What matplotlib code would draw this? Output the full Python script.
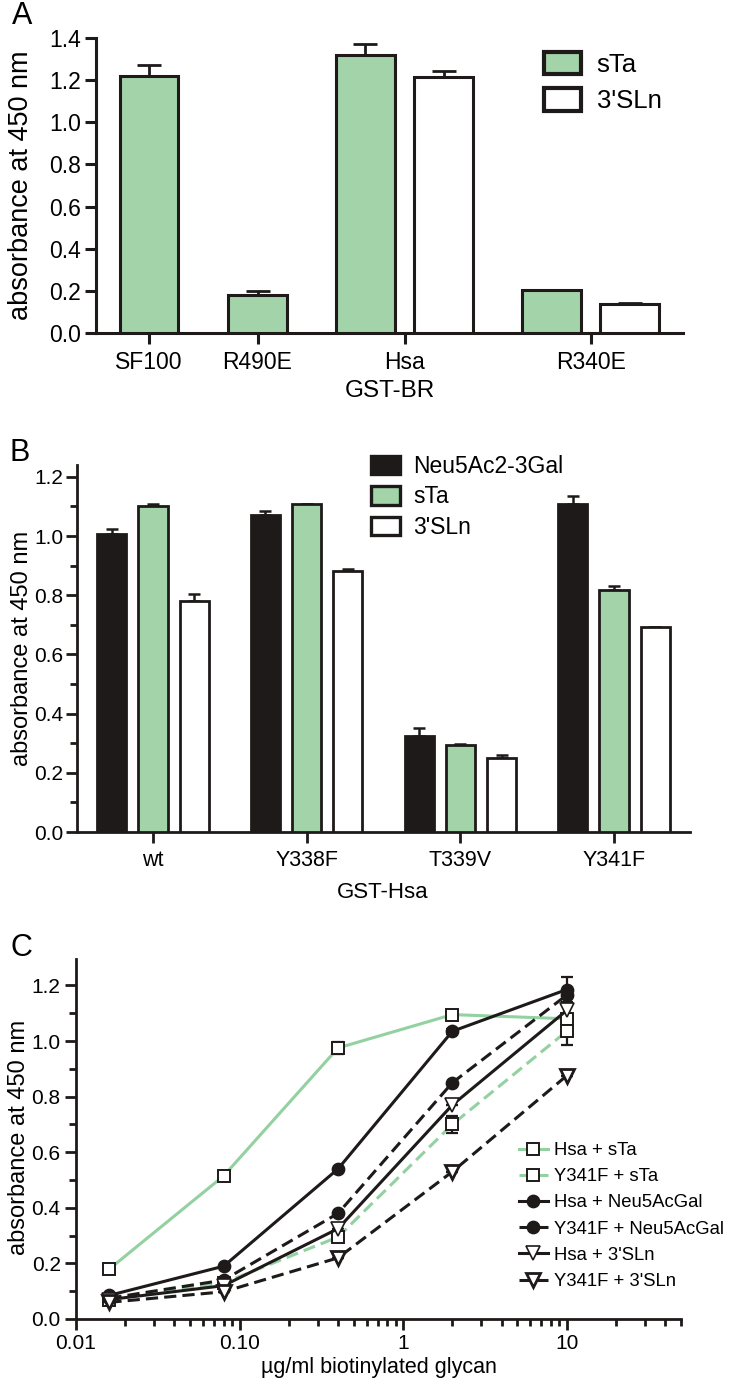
import matplotlib
matplotlib.use('Agg')
import matplotlib.pyplot as plt
from matplotlib.ticker import MultipleLocator, NullFormatter, LogLocator
import numpy as np

W, H = 744, 1383
SANS = ['Liberation Sans', 'DejaVu Sans']
plt.rcParams['font.family'] = SANS

GREEN = '#a3d3a9'
GREEN_LINE = '#93d1a1'
INK = '#1e1a1a'

# ---- Panel A data ----
a_groups = ['SF100', 'R490E', 'Hsa', 'R340E']
a_sta = [1.22, 0.18, 1.32, 0.205]
a_sta_err = [0.05, 0.02, 0.05, 0.0]
a_sln_groups = ['Hsa', 'R340E']
a_sln = [1.215, 0.138]
a_sln_err = [0.03, 0.003]

# ---- Panel B data ----
b_groups = ['wt', 'Y338F', 'T339V', 'Y341F']
b_neu = [1.006, 1.070, 0.323, 1.109]
b_neu_err = [0.019, 0.014, 0.027, 0.025]
b_sta = [1.103, 1.107, 0.293, 0.819]
b_sta_err = [0.005, 0.002, 0.005, 0.012]
b_sln = [0.782, 0.881, 0.250, 0.691]
b_sln_err = [0.021, 0.009, 0.011, 0.002]

# ---- Panel C data ----
c_conc = [0.016, 0.08, 0.4, 2, 10]
c_hsa_sta = [0.18, 0.515, 0.975, 1.095, 1.08]
c_hsa_sta_err = [0.0, 0.0, 0.02, 0.008, 0.01]
c_y341f_sta = [0.07, 0.13, 0.295, 0.70, 1.035]
c_y341f_sta_err = [0.0, 0.0, 0.01, 0.03, 0.05]
c_hsa_neu = [0.085, 0.19, 0.54, 1.035, 1.185]
c_hsa_neu_err = [0.0, 0.0, 0.0, 0.008, 0.045]
c_y341f_neu = [0.075, 0.14, 0.38, 0.85, 1.165]
c_y341f_neu_err = [0.0, 0.0, 0.0, 0.0, 0.0]
c_hsa_sln = [0.07, 0.12, 0.325, 0.77, 1.11]
c_hsa_sln_err = [0.0, 0.0, 0.0, 0.0, 0.02]
c_y341f_sln = [0.06, 0.098, 0.22, 0.53, 0.875]
c_y341f_sln_err = [0.0, 0.0, 0.0, 0.0, 0.0]


def px_axes(fig, left, top, right, bottom):
    return fig.add_axes([left / W, 1 - bottom / H, (right - left) / W, (bottom - top) / H])


def style_axes(ax, lw):
    for s in ['top', 'right']:
        ax.spines[s].set_visible(False)
    for s in ['left', 'bottom']:
        ax.spines[s].set_linewidth(lw)
        ax.spines[s].set_color(INK)


fig = plt.figure(figsize=(W / 100, H / 100), dpi=100)

# ================= Panel A =================
ax = px_axes(fig, 96, 38, 683, 333)
style_axes(ax, 2.2)
a_pos = {'SF100': 0.0, 'R490E': 1.75, 'Hsa': 4.12, 'R340E': 7.12}
a_off = {'SF100': 0.0, 'R490E': 0.0, 'Hsa': -0.63, 'R340E': -0.63}
x_sta = [a_pos[g] + a_off[g] for g in a_groups]
x_sln = [a_pos[g] + 0.63 for g in a_sln_groups]
ax.bar(x_sta, a_sta, width=0.95, color=GREEN, edgecolor=INK, linewidth=2.2, zorder=3, label='sTa')
ax.bar(x_sln, a_sln, width=0.95, color='white', edgecolor=INK, linewidth=2.2, zorder=3, label="3'SLn")
ax.errorbar(x_sta, a_sta, yerr=[np.zeros(4), a_sta_err], fmt='none', ecolor=INK,
            elinewidth=2.0, capsize=8.5, capthick=2.0, zorder=2)
ax.errorbar(x_sln, a_sln, yerr=[np.zeros(2), a_sln_err], fmt='none', ecolor=INK,
            elinewidth=2.0, capsize=8.5, capthick=2.0, zorder=2)
ax.set_xlim(-0.855, 8.61)
ax.set_ylim(0, 1.4)
ax.set_yticks(np.arange(0, 1.41, 0.2))
ax.set_yticklabels([f'{v:.1f}' for v in np.arange(0, 1.41, 0.2)])
ax.set_xticks([a_pos[g] for g in a_groups])
ax.set_xticklabels(a_groups)
ax.tick_params(axis='both', width=2.2, length=8, color=INK, labelsize=16.5, pad=3)
ax.tick_params(axis='x', pad=5)
ax.legend(loc='upper left', bbox_to_anchor=(544 / W, 1 - 52 / H), bbox_transform=fig.transFigure,
          frameon=False, fontsize=18.5, handlelength=1.45, handleheight=0.95,
          handletextpad=0.6, labelspacing=0.45, borderpad=0, borderaxespad=0)
for p in ax.get_legend().get_patches():
    p.set_linewidth(3)
fig.text(390 / W, 1 - 391 / H, 'GST-BR', ha='center', va='center', fontsize=17.5)
fig.text(21 / W, 1 - 185 / H, 'absorbance at 450 nm', ha='center', va='center',
         rotation=90, fontsize=19.5)
fig.text(12 / W, 1 - 16 / H, 'A', ha='left', va='center', fontsize=22)

# ================= Panel B =================
ax = px_axes(fig, 77, 465, 690, 832)
style_axes(ax, 2.0)
xb = np.arange(len(b_groups))
off, bw = 0.268, 0.19
for vals, errs, col, lab, dx in [(b_neu, b_neu_err, INK, 'Neu5Ac2-3Gal', -off),
                                 (b_sta, b_sta_err, GREEN, 'sTa', 0.0),
                                 (b_sln, b_sln_err, 'white', "3'SLn", off)]:
    ax.bar(xb + dx, vals, width=bw, color=col, edgecolor=INK, linewidth=2.0, zorder=3, label=lab)
    ax.errorbar(xb + dx, vals, yerr=[np.zeros(4), errs], fmt='none', ecolor=INK,
                elinewidth=1.8, capsize=4.5, capthick=1.8, zorder=2)
ax.set_xlim(-0.494, 3.494)
ax.set_ylim(0, 1.24)
ax.set_yticks(np.arange(0, 1.21, 0.2))
ax.set_yticklabels([f'{v:.1f}' for v in np.arange(0, 1.21, 0.2)])
ax.yaxis.set_minor_locator(MultipleLocator(0.1))
ax.set_xticks(xb)
ax.set_xticklabels(b_groups)
ax.tick_params(axis='y', which='major', width=2.0, length=8, color=INK, labelsize=15, pad=2)
ax.tick_params(axis='y', which='minor', width=2.0, length=5, color=INK)
ax.tick_params(axis='x', width=2.0, length=8, color=INK, labelsize=15.5, pad=5)
ax.legend(loc='upper left', bbox_to_anchor=(371 / W, 1 - 455 / H), bbox_transform=fig.transFigure,
          frameon=False, fontsize=16.5, handlelength=1.25, handleheight=0.85,
          handletextpad=0.6, labelspacing=0.32, borderpad=0, borderaxespad=0)
for p in ax.get_legend().get_patches():
    p.set_linewidth(2.4)
fig.text(383 / W, 1 - 893 / H, 'GST-Hsa', ha='center', va='center', fontsize=16)
fig.text(22 / W, 1 - 648 / H, 'absorbance at 450 nm', ha='center', va='center',
         rotation=90, fontsize=17)
fig.text(10 / W, 1 - 453 / H, 'B', ha='left', va='center', fontsize=22)

# ================= Panel C =================
ax = px_axes(fig, 76, 959, 681, 1319)
style_axes(ax, 2.0)
series = [
    ('Hsa + sTa', c_hsa_sta, c_hsa_sta_err, GREEN_LINE, '-', 's', 'white', 1.4),
    ('Y341F + sTa', c_y341f_sta, c_y341f_sta_err, GREEN_LINE, (0, (4, 2)), 's', 'white', 1.4),
    ('Hsa + Neu5AcGal', c_hsa_neu, c_hsa_neu_err, INK, '-', 'o', INK, 1.4),
    ('Y341F + Neu5AcGal', c_y341f_neu, c_y341f_neu_err, INK, (0, (4, 2)), 'o', INK, 1.4),
    ("Hsa + 3'SLn", c_hsa_sln, c_hsa_sln_err, INK, '-', 'v', 'white', 1.2),
    ("Y341F + 3'SLn", c_y341f_sln, c_y341f_sln_err, INK, (0, (4, 2)), 'v', 'white', 2.0),
]
for lab, vals, errs, col, ls, mk, mfc, mew in series:
    ax.errorbar(c_conc, vals, yerr=errs, fmt='none', ecolor=INK, elinewidth=1.6,
                capsize=4.5, capthick=1.6, zorder=2)
    ax.plot(c_conc, vals, color=col, linestyle=ls, linewidth=2.2, marker=mk,
            markersize=8.5 if mk != 'v' else 9.5, markerfacecolor=mfc,
            markeredgecolor=INK, markeredgewidth=mew, label=lab, zorder=3)
ax.set_xscale('log')
ax.set_xlim(0.01, 50)
ax.set_ylim(0, 1.295)
ax.set_xticks([0.01, 0.1, 1, 10])
ax.set_xticklabels(['0.01', '0.10', '1', '10'])
ax.xaxis.set_minor_locator(LogLocator(base=10, subs=np.arange(2, 10), numticks=20))
ax.xaxis.set_minor_formatter(NullFormatter())
ax.set_yticks(np.arange(0, 1.21, 0.2))
ax.set_yticklabels([f'{v:.1f}' for v in np.arange(0, 1.21, 0.2)])
ax.yaxis.set_minor_locator(MultipleLocator(0.1))
ax.tick_params(axis='both', which='major', width=2.0, length=8, color=INK, pad=3, labelsize=15)
ax.tick_params(axis='both', which='minor', width=2.0, length=5, color=INK)
ax.legend(loc='upper left', bbox_to_anchor=(519 / W, 1 - 1142 / H), bbox_transform=fig.transFigure,
          frameon=False, handlelength=1.55, handletextpad=0.35, labelspacing=0.5,
          borderpad=0, borderaxespad=0, fontsize=13.3)
fig.text(379 / W, 1 - 1368 / H, 'µg/ml biotinylated glycan', ha='center', va='center',
         fontsize=15.5)
fig.text(19 / W, 1 - 1137 / H, 'absorbance at 450 nm', ha='center', va='center',
         rotation=90, fontsize=17)
fig.text(10 / W, 1 - 948 / H, 'C', ha='left', va='center', fontsize=22)

fig.savefig('out.png', dpi=100)
